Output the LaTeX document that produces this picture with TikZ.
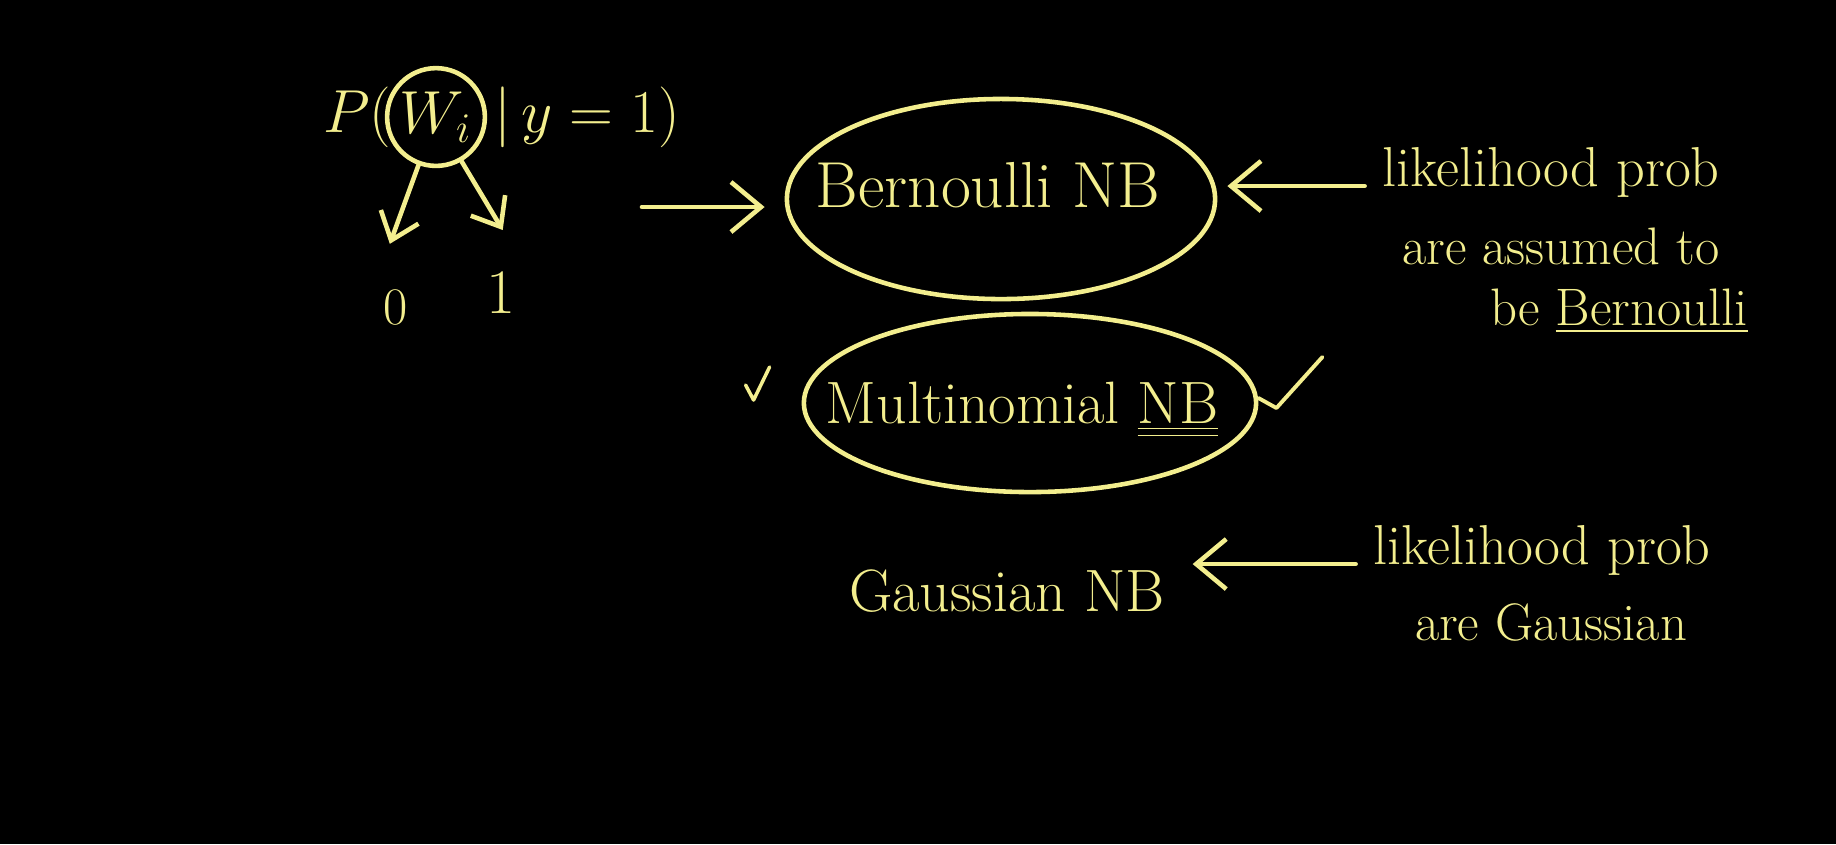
\documentclass[tikz,border=0pt]{standalone}
\usepackage{fontspec}
\usetikzlibrary{arrows.meta, positioning, calc, shapes.geometric}
\definecolor{chalk}{HTML}{F3EE8E}
\definecolor{board}{HTML}{000000}

\begin{document}
\begin{tikzpicture}[
  x=0.01cm, y=-0.01cm,
  >={Straight Barb[length=3mm, width=5mm]},
  every node/.style={text=chalk},
  ink/.style={draw=chalk, line width=1.3pt, line cap=round, line join=round},
  ring/.style={ellipse, draw=chalk, line width=1.3pt, inner sep=0pt},
  nbtext/.style={font=\fontsize{17}{20}\selectfont, inner sep=2pt},
  liktext/.style={font=\fontsize{15}{18}\selectfont, inner sep=2pt},
  mathtext/.style={font=\fontsize{18}{21}\selectfont, inner sep=2pt},
]

% Background
\fill[board] (0,0) rectangle (1836,844);

% === Left: feature probability ===
\node[mathtext, circle, draw=chalk, line width=1.3pt, minimum size=0.94cm, inner sep=1pt] (wi) at (436,117) {$W_i$};
\node[mathtext, left=-4pt of wi] (pleft) {$P($};
\node[mathtext, right=0pt of wi] (pright) {$|\,y=1)$};

\node[liktext] (zero) at (396,307) {0};
\node[mathtext] (one) at (501,293) {1};

\draw[ink, ->, >={Straight Barb[length=2.5mm, width=4mm]}, shorten >=4mm] (wi.-110) -- (zero.north west);
\draw[ink, ->, >={Straight Barb[length=2.5mm, width=4mm]}, shorten >=4mm] (wi.-60) -- (one.north east);

% === Bernoulli NB ===
\node[ring, minimum width=4.28cm, minimum height=2cm] (bernring) at (1001,199) {};
\node[nbtext, font=\fontsize{18.5}{21}\selectfont] (bern) at (988,185) {Bernoulli NB};

\coordinate (pout) at (642,207);
\draw[ink, ->, shorten >=2mm] (pout) -- (pout -| bernring.west);

\node[liktext, font=\fontsize{16}{19}\selectfont] (lik1a) at (1551,172) {likelihood prob};
\node[liktext] (lik1b) at (1561,246) {are assumed to};
\node[liktext] (lik1c) at (1619,311) {be \underline{Bernoulli}};
\draw[ink, ->, shorten <=1mm, shorten >=1mm] (lik1a.base west) -- (lik1a.base west -| bernring.east);

% === Multinomial NB ===
\node[ring, minimum width=4.52cm, minimum height=1.78cm] (multring) at (1030,403) {};
\node[nbtext] (mult) at (1022,410) {Multinomial \underline{\underline{NB}}};

% ticks
\draw[ink, line width=1pt] ($(multring.west)+(-56,-18)$) -- ++(8,15) -- ++(16,-33);
\draw[ink, line width=1.1pt] ($(multring.east)+(0,-5)$) -- ++(18,10) -- ++(46,-51);

% === Gaussian NB ===
\node[nbtext] (gauss) at (1007,591) {Gaussian NB};

\node[liktext, font=\fontsize{16}{19}\selectfont] (lik2a) at (1542,550) {likelihood prob};
\node[liktext] (lik2b) at (1551,622) {are Gaussian};
\draw[ink, ->, shorten <=1mm, shorten >=2mm] (lik2a.base west) -- (lik2a.base west -| gauss.east);

\end{tikzpicture}
\end{document}
